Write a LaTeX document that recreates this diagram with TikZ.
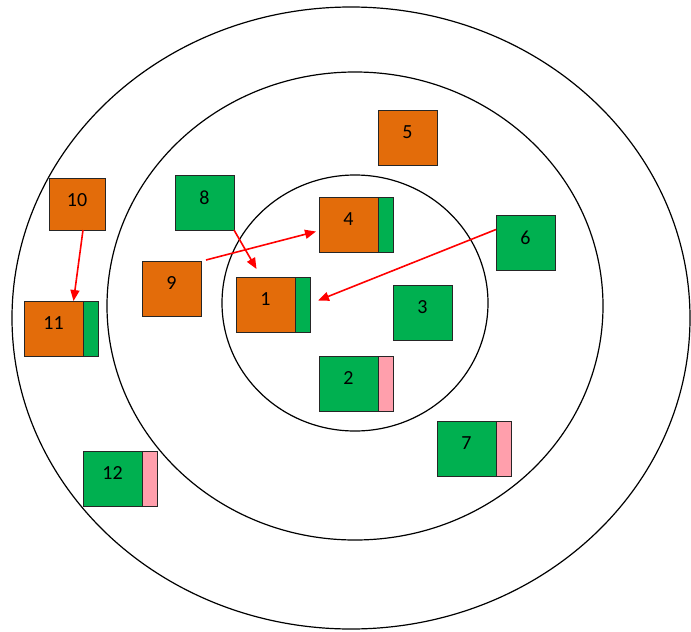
\documentclass[tikz,border=0pt]{standalone}
\usepackage{fontspec}
\setmainfont{Carlito}
\usetikzlibrary{arrows.meta}
\definecolor{orng}{HTML}{E36C0A}
\definecolor{grn}{HTML}{00B050}
\definecolor{pnk}{HTML}{FF9FAC}
\definecolor{bord}{HTML}{262626}
\tikzset{
  ring/.style={draw=black, line width=1.2pt},
  sq/.style={draw=bord, line width=1pt, minimum width=59pt, minimum height=55pt, inner sep=0pt, outer sep=0pt},
  obox/.style={sq, fill=orng},
  gbox/.style={sq, fill=grn},
  strip/.style={draw=bord, line width=1pt, minimum width=15pt, minimum height=55pt, inner sep=0pt, outer sep=0pt, anchor=north west},
  gstrip/.style={strip, fill=grn},
  pstrip/.style={strip, fill=pnk},
  num/.style={font=\fontsize{20}{24}\selectfont, text=black},
  rarrow/.style={draw=red, line width=1.6pt, -{Triangle[length=11pt,width=9pt]}}
}
\newcommand{\bx}[5]{% style, name, x, y (top-left), text
  \node[#1, anchor=north west] (#2) at (#3,#4) {};
  \node[num, yshift=5pt] (#2t) at (#2.center) {#5};
}
\begin{document}
\begin{tikzpicture}[x=1pt,y=-1pt]
\useasboundingbox (0,0) rectangle (691,632);
\fill[white] (0,0) rectangle (691,632);
% rings
\draw[ring] (351,318) ellipse [x radius=339, y radius=311];
\draw[ring] (355,306) ellipse [x radius=248, y radius=234];
\draw[ring] (355,303) ellipse [x radius=133, y radius=128];
% boxes
\bx{obox}{b1}{236}{277}{1}
\node[gstrip] (s1) at (b1.north east) {};
\bx{gbox}{b2}{319}{356}{2}
\node[pstrip] (s2) at (b2.north east) {};
\bx{gbox}{b3}{393}{285}{3}
\bx{obox}{b4}{319}{197}{4}
\node[gstrip] (s4) at (b4.north east) {};
\bx{obox}{b5}{378}{110}{5}
\bx{gbox}{b6}{496}{215}{6}
\bx{gbox}{b7}{437}{421}{7}
\node[pstrip] (s7) at (b7.north east) {};
\bx{gbox}{b8}{175}{175}{8}
\bx{obox}{b9}{142}{261}{9}
\node[obox, anchor=north west, minimum width=56pt, minimum height=52pt] (b10) at (49,178) {};
\node[num, yshift=4pt] (b10t) at (b10.center) {10};
\bx{obox}{b11}{24}{301}{11}
\node[gstrip] (s11) at (b11.north east) {};
\bx{gbox}{b12}{83}{451}{12}
\node[pstrip] (s12) at (b12.north east) {};
% arrows
\draw[rarrow] ([xshift=6pt]b10.south) -- ([xshift=20pt]b11.north);
\draw[rarrow] (b8.south east) -- ([xshift=-9pt,yshift=8pt]b1.north);
\draw[rarrow] ([xshift=5pt,yshift=1pt]b9.north east) -- ([xshift=-3pt,yshift=-7pt]b4.west);
\draw[rarrow] ([yshift=13pt]b6.west) -- ([xshift=8pt,yshift=4pt]s1.east);
\end{tikzpicture}
\end{document}
